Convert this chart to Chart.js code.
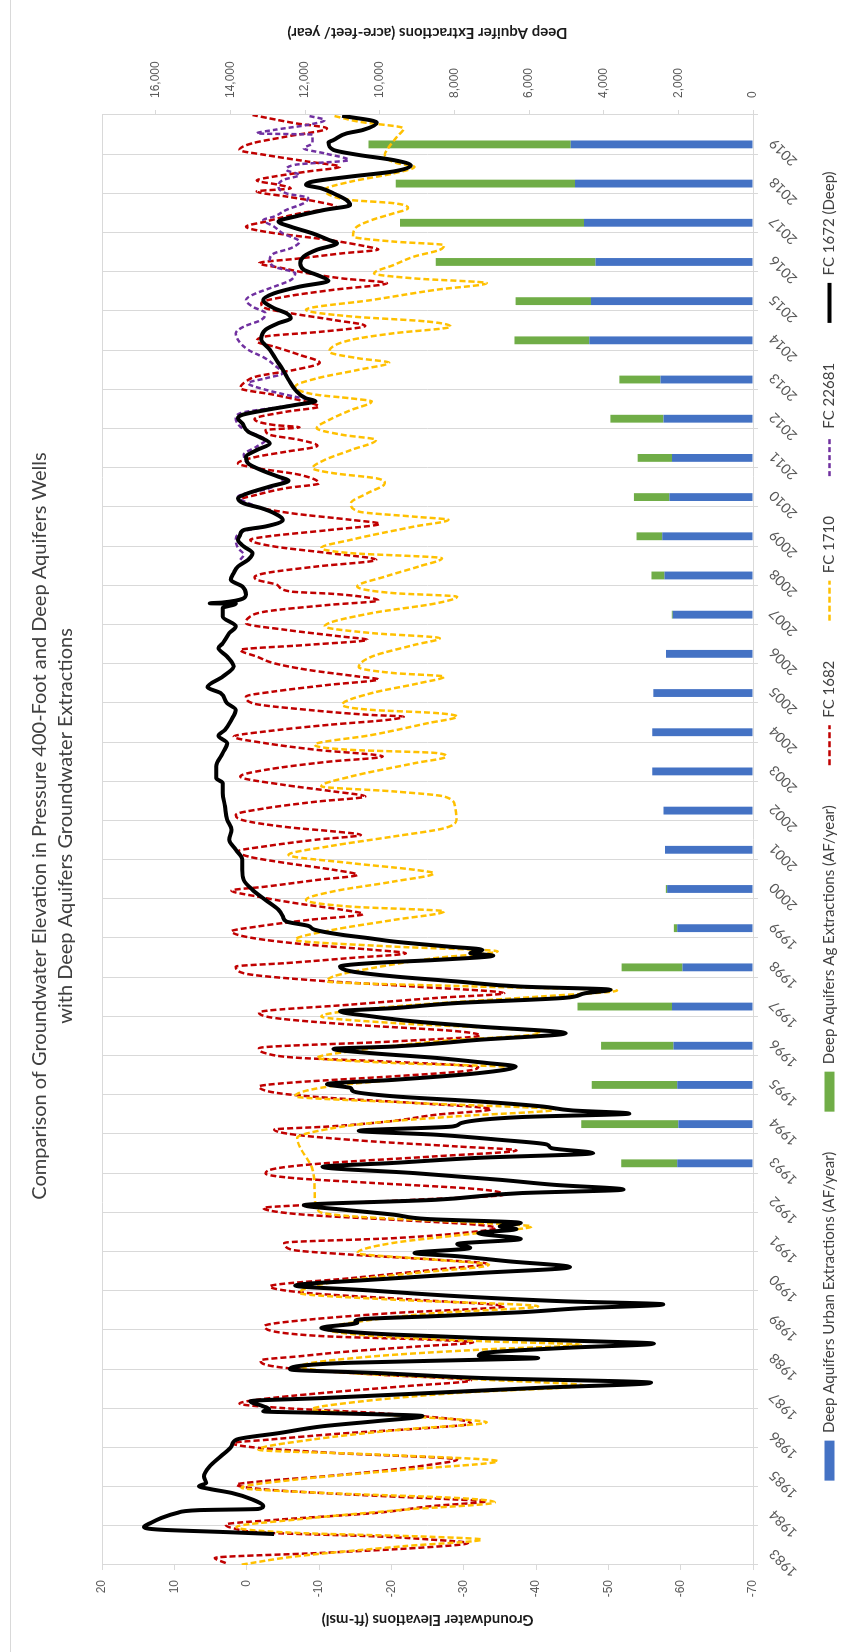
<!DOCTYPE html>
<html>
<head>
<meta charset="utf-8">
<title>Groundwater Elevation and Deep Aquifer Extractions</title>
<script src="https://cdn.jsdelivr.net/npm/chart.js@4.4.1/dist/chart.umd.min.js"></script>
<style>
  html, body { margin: 0; padding: 0; background: #ffffff; width: 847px; height: 1652px; overflow: hidden; }
  /* the chart is laid out landscape and turned a quarter turn counter-clockwise */
  #wrap { position: absolute; left: 0; top: 0; width: 1652px; height: 847px;
          transform-origin: 0 0; transform: translate(0, 1652px) rotate(-90deg); }
  canvas { display: block; }
</style>
</head>
<body>
<div id="wrap"><canvas id="chart" width="1652" height="847"></canvas></div>
<script>
// ---- categories -------------------------------------------------------
const years = ['1983','1984','1985','1986','1987','1988','1989','1990','1991','1992',
  '1993','1994','1995','1996','1997','1998','1999','2000','2001','2002','2003','2004',
  '2005','2006','2007','2008','2009','2010','2011','2012','2013','2014','2015','2016',
  '2017','2018','2019'];

// ---- deep aquifer extractions (acre-feet / year) ------------------------
const urbanAF = [null,null,null,null,null,null,null,null,null,null,
  2030,2000,2030,2130,2170,1890,2030,2300,2360,2400,2700,2700,
  2670,2330,2150,2370,2430,2240,2170,2400,2480,4390,4340,4220,
  4530,4770,4880];
const agAF = [null,null,null,null,null,null,null,null,null,null,
  1500,2600,2290,1940,2530,1630,90,35,0,0,0,0,
  0,0,25,350,690,950,920,1420,1100,2000,2020,4280,
  4930,4800,5420];

// ---- well hydrographs: [decimal year, elevation ft-msl] -----------------
const fc1682 = [[1983.05,2.9],[1983.18,4.4],[1983.31,-10.5],[1983.44,-23.9],[1983.56,-30.6],[1983.65,-25.4],[1983.73,-17.9],[1983.82,-3.1],[1983.95,2.1],[1984.03,2.9],[1984.16,-4.6],[1984.33,-17.9],[1984.50,-25.4],[1984.63,-33.2],[1984.67,-29.1],[1984.80,-14.2],[1984.92,-3.1],[1985.05,1.4],[1985.14,-2.3],[1985.26,-10.5],[1985.39,-17.9],[1985.56,-25.4],[1985.69,-29.1],[1985.86,-12.0],[1985.99,-1.6],[1986.11,2.0],[1986.20,-3.1],[1986.37,-14.2],[1986.50,-25.4],[1986.61,-31.0],[1986.71,-29.1],[1986.88,-17.9],[1987.01,-4.6],[1987.12,1.0],[1987.22,-1.6],[1987.39,-10.5],[1987.56,-21.7],[1987.71,-31.0],[1987.86,-17.9],[1987.99,-7.5],[1988.09,-3.1],[1988.22,-1.9],[1988.33,-7.5],[1988.45,-14.2],[1988.58,-23.9],[1988.68,-31.3],[1988.75,-25.4],[1988.84,-10.5],[1989.10,-2.5],[1989.26,-8.5],[1989.43,-20.3],[1989.60,-35.6],[1989.77,-23.2],[1989.94,-8.5],[1990.11,-3.2],[1990.32,-14.4],[1990.54,-26.2],[1990.69,-33.2],[1990.79,-26.2],[1990.92,-14.4],[1991.05,-6.1],[1991.22,-5.2],[1991.34,-20.3],[1991.47,-29.7],[1991.60,-34.4],[1991.68,-32.0],[1991.81,-20.3],[1991.94,-7.9],[1992.11,-2.3],[1992.19,-8.5],[1992.32,-23.2],[1992.45,-35.6],[1992.59,-32.0],[1992.75,-17.3],[1992.87,-6.7],[1992.99,-2.6],[1993.13,-4.4],[1993.26,-11.4],[1993.43,-26.2],[1993.58,-37.3],[1993.68,-29.1],[1993.81,-17.3],[1993.98,-6.7],[1994.11,-3.8],[1994.19,-11.4],[1994.32,-19.7],[1994.49,-26.2],[1994.63,-33.8],[1994.79,-23.2],[1994.92,-11.4],[1995.04,-4.4],[1995.21,-1.7],[1995.30,-5.5],[1995.47,-20.3],[1995.60,-30.0],[1995.70,-32.0],[1995.85,-19.0],[1995.94,-7.3],[1996.06,-2.6],[1996.19,-1.7],[1996.36,-20.3],[1996.51,-32.3],[1996.62,-29.1],[1996.79,-14.4],[1996.96,-3.8],[1997.10,-1.7],[1997.30,-14.4],[1997.47,-26.2],[1997.59,-35.6],[1997.76,-23.2],[1997.93,-8.5],[1998.10,0.4],[1998.27,1.5],[1998.36,-5.5],[1998.49,-14.4],[1998.61,-22.0],[1998.70,-17.3],[1998.83,-8.5],[1999.00,-0.8],[1999.17,2.1],[1999.29,-1.4],[1999.46,-8.5],[1999.61,-16.1],[1999.72,-13.2],[1999.89,-6.7],[2000.06,-1.4],[2000.21,2.1],[2000.31,-2.6],[2000.48,-9.7],[2000.61,-15.3],[2000.74,-12.0],[2000.91,-5.5],[2001.08,-0.2],[2001.21,1.2],[2001.34,-2.6],[2001.51,-9.7],[2001.63,-15.8],[2001.72,-12.0],[2001.82,-6.0],[2002.02,0.8],[2002.14,1.5],[2002.31,-2.6],[2002.48,-9.7],[2002.61,-16.4],[2002.74,-12.0],[2002.91,-5.0],[2003.12,0.9],[2003.29,-2.6],[2003.50,-11.4],[2003.63,-18.8],[2003.80,-9.7],[2003.97,-2.6],[2004.14,1.8],[2004.27,-2.6],[2004.44,-11.4],[2004.57,-19.7],[2004.65,-21.7],[2004.69,-17.3],[2004.82,-8.5],[2004.99,-0.8],[2005.16,0.1],[2005.29,-3.8],[2005.46,-11.4],[2005.60,-18.2],[2005.67,-15.5],[2005.84,-8.5],[2006.01,-3.8],[2006.18,-1.4],[2006.35,0.9],[2006.48,-8.5],[2006.61,-16.7],[2006.69,-13.2],[2006.86,-5.5],[2007.03,0.1],[2007.16,-0.2],[2007.33,-2.6],[2007.50,-11.4],[2007.61,-18.2],[2007.67,-17.3],[2007.78,-12.0],[2007.84,-6.1],[2008.01,-4.2],[2008.14,-1.4],[2008.21,-1.1],[2008.31,-2.6],[2008.48,-9.7],[2008.65,-17.9],[2008.82,-11.4],[2008.99,-3.8],[2009.16,-0.5],[2009.24,-2.6],[2009.41,-11.4],[2009.57,-18.4],[2009.67,-14.4],[2009.84,-6.1],[2010.05,-0.2],[2010.18,0.9],[2010.31,-1.4],[2010.48,-5.5],[2010.60,-10.0],[2010.82,-7.3],[2010.99,-1.4],[2011.11,1.2],[2011.28,-1.4],[2011.41,-5.5],[2011.56,-9.8],[2011.71,-7.3],[2011.84,-3.2],[2011.96,-2.6],[2012.03,-7.3],[2012.09,-3.8],[2012.24,-1.1],[2012.43,-5.5],[2012.56,-10.0],[2012.64,-9.1],[2012.86,-3.8],[2013.03,0.9],[2013.20,0.1],[2013.33,-1.4],[2013.50,-6.7],[2013.68,-10.1],[2013.88,-7.3],[2014.09,-3.8],[2014.22,-1.4],[2014.35,-2.6],[2014.47,-10.3],[2014.62,-16.4],[2014.77,-12.0],[2014.94,-6.1],[2015.07,-2.6],[2015.20,-2.0],[2015.37,-5.5],[2015.54,-12.0],[2015.71,-19.4],[2015.83,-13.2],[2015.96,-8.5],[2016.09,-5.0],[2016.22,-1.7],[2016.34,-7.3],[2016.47,-13.2],[2016.57,-18.2],[2016.64,-16.7],[2016.81,-11.4],[2017.02,-2.6],[2017.15,0.1],[2017.28,-2.6],[2017.49,-7.3],[2017.66,-12.3],[2017.79,-9.7],[2017.92,-5.5],[2018.05,-1.4],[2018.13,-6.1],[2018.22,-4.4],[2018.33,-1.4],[2018.43,-3.8],[2018.56,-8.5],[2018.68,-12.9],[2018.81,-8.5],[2018.98,-2.6],[2019.11,1.0],[2019.28,-0.8],[2019.45,-5.5],[2019.66,-11.1],[2019.79,-6.7],[2020.00,-0.8]];

const fc1710 = [[1983.01,0.7],[1983.22,-6.8],[1983.48,-21.7],[1983.65,-32.5],[1983.72,-25.4],[1983.82,-6.8],[1983.97,1.4],[1984.16,-6.8],[1984.41,-21.7],[1984.60,-34.3],[1984.71,-29.1],[1984.84,-10.5],[1984.97,0.7],[1985.18,-6.8],[1985.43,-21.7],[1985.65,-34.7],[1985.82,-17.9],[1985.94,-1.6],[1986.20,-9.0],[1986.46,-21.7],[1986.64,-33.2],[1986.80,-21.7],[1986.97,-9.0],[1987.14,-14.2],[1987.39,-29.1],[1987.58,-46.6],[1987.73,-32.8],[1987.90,-14.2],[1988.07,-7.5],[1988.33,-17.9],[1988.50,-32.8],[1988.62,-46.2],[1988.71,-32.8],[1988.84,-17.9],[1989.03,-11.0],[1989.18,-14.4],[1989.43,-26.2],[1989.60,-40.3],[1989.77,-20.3],[1989.94,-7.3],[1990.20,-11.4],[1990.45,-23.2],[1990.66,-33.5],[1990.79,-26.2],[1990.96,-15.3],[1991.22,-20.3],[1991.47,-32.0],[1991.64,-39.4],[1991.73,-32.0],[1991.90,-14.4],[1992.02,-10.0],[1992.49,-9.4],[1993.09,-9.1],[1993.90,-7.0],[1994.07,-9.7],[1994.28,-17.3],[1994.45,-29.1],[1994.62,-42.6],[1994.79,-23.2],[1994.96,-6.7],[1995.21,-11.4],[1995.47,-26.2],[1995.60,-34.0],[1995.70,-36.5],[1995.81,-20.3],[1995.94,-9.7],[1996.11,-14.4],[1996.36,-26.2],[1996.57,-40.6],[1996.66,-37.9],[1996.83,-20.3],[1997.00,-10.3],[1997.25,-20.3],[1997.51,-40.9],[1997.66,-51.2],[1997.76,-32.0],[1997.89,-11.1],[1998.02,-12.0],[1998.23,-17.3],[1998.49,-26.2],[1998.66,-34.7],[1998.78,-20.3],[1998.95,-6.7],[1999.21,-12.0],[1999.46,-20.3],[1999.68,-27.3],[1999.80,-14.4],[1999.97,-8.2],[2000.19,-12.0],[2000.44,-20.3],[2000.65,-25.9],[2000.74,-23.2],[2000.91,-14.4],[2001.12,-5.8],[2001.34,-11.4],[2001.59,-20.3],[2001.80,-27.3],[2002.02,-29.0],[2002.36,-28.8],[2002.61,-27.3],[2002.74,-20.3],[2002.87,-10.3],[2003.12,-14.4],[2003.46,-23.2],[2003.63,-27.6],[2003.72,-26.2],[2003.80,-14.4],[2003.93,-9.4],[2004.18,-17.3],[2004.48,-25.0],[2004.65,-29.1],[2004.74,-26.2],[2004.82,-17.3],[2004.95,-13.2],[2005.25,-17.3],[2005.50,-23.8],[2005.67,-27.3],[2005.76,-20.3],[2005.91,-15.5],[2006.18,-17.3],[2006.48,-23.2],[2006.65,-26.7],[2006.78,-17.3],[2006.95,-10.8],[2007.29,-17.3],[2007.54,-26.2],[2007.71,-29.1],[2007.80,-20.3],[2007.97,-15.3],[2008.22,-19.1],[2008.48,-23.8],[2008.69,-27.0],[2008.82,-14.4],[2008.95,-10.3],[2009.16,-14.4],[2009.50,-23.2],[2009.67,-27.9],[2009.75,-23.2],[2009.88,-15.5],[2010.09,-14.4],[2010.35,-16.7],[2010.60,-19.1],[2010.73,-17.9],[2010.86,-12.0],[2010.99,-9.1],[2011.20,-10.8],[2011.45,-14.4],[2011.71,-17.9],[2011.84,-13.2],[2012.01,-9.7],[2012.22,-11.4],[2012.47,-14.4],[2012.69,-17.3],[2012.77,-14.4],[2012.86,-9.7],[2013.07,-6.7],[2013.28,-9.7],[2013.50,-15.5],[2013.68,-19.7],[2013.79,-15.5],[2013.96,-11.4],[2014.26,-14.4],[2014.43,-20.3],[2014.60,-28.2],[2014.73,-25.0],[2014.86,-14.4],[2015.03,-8.2],[2015.28,-17.3],[2015.54,-26.2],[2015.71,-33.2],[2015.83,-23.2],[2015.96,-17.6],[2016.17,-20.3],[2016.39,-23.2],[2016.56,-26.7],[2016.68,-27.3],[2016.77,-20.3],[2016.90,-14.7],[2017.11,-15.0],[2017.32,-17.3],[2017.49,-20.3],[2017.62,-22.3],[2017.75,-20.3],[2017.83,-14.4],[2017.92,-12.0],[2018.09,-10.8],[2018.30,-14.4],[2018.51,-20.3],[2018.68,-23.2],[2018.77,-20.8],[2018.98,-19.1],[2019.19,-19.7],[2019.45,-20.8],[2019.66,-21.7],[2019.83,-15.5],[2019.98,-12.0]];

const fc22681 = [[2008.65,0.9],[2008.78,0.4],[2008.95,1.2],[2009.16,1.5],[2009.37,0.6],[2009.50,-2.6],[2009.67,-5.0],[2009.84,-3.8],[2010.05,-0.8],[2010.26,1.2],[2010.48,-3.2],[2010.69,-5.0],[2010.90,-2.6],[2011.11,-0.2],[2011.33,0.4],[2011.54,-1.4],[2011.71,-2.6],[2011.88,-0.8],[2012.05,0.9],[2012.26,1.5],[2012.39,0.9],[2012.56,-5.0],[2012.70,-9.5],[2012.81,-6.7],[2012.99,-2.6],[2013.16,-0.2],[2013.28,-2.6],[2013.41,-5.0],[2013.62,-3.8],[2013.79,-2.6],[2014.01,-0.2],[2014.26,1.2],[2014.43,1.5],[2014.60,0.4],[2014.77,-2.0],[2014.94,-2.6],[2015.11,-0.8],[2015.28,0.1],[2015.41,-0.8],[2015.62,-3.8],[2015.79,-6.1],[2015.96,-6.7],[2016.13,-3.8],[2016.30,-3.2],[2016.47,-3.8],[2016.60,-6.1],[2016.77,-7.3],[2016.98,-5.0],[2017.15,-3.8],[2017.32,-2.3],[2017.41,-3.8],[2017.58,-5.5],[2017.75,-7.9],[2017.88,-8.5],[2018.00,-5.5],[2018.17,-4.4],[2018.34,-5.0],[2018.47,-7.3],[2018.60,-5.5],[2018.73,-6.7],[2018.85,-14.1],[2019.02,-10.8],[2019.15,-7.9],[2019.28,-9.1],[2019.50,-9.1],[2019.53,-1.4],[2019.62,-3.8],[2019.75,-8.5],[2019.87,-10.8],[2019.98,-8.5]];

const fc1672 = [[1983.79,-3.8],[1983.84,2.9],[1983.90,11.8],[1983.97,14.2],[1984.07,13.3],[1984.20,11.8],[1984.33,9.6],[1984.40,6.6],[1984.43,-1.6],[1984.50,-2.3],[1984.67,-0.8],[1984.84,2.1],[1984.94,5.1],[1985.01,6.6],[1985.09,5.6],[1985.26,5.9],[1985.52,5.1],[1985.77,3.6],[1986.03,2.1],[1986.20,1.4],[1986.37,-4.6],[1986.54,-10.5],[1986.67,-17.9],[1986.80,-24.3],[1986.88,-10.5],[1986.92,-2.3],[1986.98,-3.1],[1987.05,-2.3],[1987.18,-0.5],[1987.26,-10.5],[1987.39,-25.4],[1987.52,-40.3],[1987.65,-55.9],[1987.77,-32.8],[1987.90,-17.9],[1987.99,-6.0],[1988.05,-6.4],[1988.16,-14.2],[1988.24,-32.8],[1988.28,-40.3],[1988.34,-32.1],[1988.41,-32.8],[1988.54,-44.0],[1988.65,-56.3],[1988.71,-47.7],[1988.79,-32.8],[1988.88,-20.2],[1988.96,-13.5],[1989.05,-10.3],[1989.18,-15.3],[1989.22,-15.0],[1989.28,-16.5],[1989.35,-26.0],[1989.45,-38.0],[1989.55,-46.0],[1989.65,-57.6],[1989.73,-43.8],[1989.86,-29.1],[1990.01,-16.7],[1990.13,-6.7],[1990.28,-17.3],[1990.45,-32.0],[1990.60,-44.7],[1990.75,-36.2],[1990.88,-29.1],[1990.96,-23.2],[1991.09,-30.9],[1991.19,-29.1],[1991.32,-37.9],[1991.47,-32.0],[1991.57,-37.3],[1991.64,-35.0],[1991.73,-37.9],[1991.83,-24.9],[1991.94,-20.3],[1992.07,-13.2],[1992.18,-7.9],[1992.32,-26.2],[1992.49,-37.9],[1992.58,-52.1],[1992.70,-42.6],[1992.83,-35.0],[1993.00,-23.2],[1993.16,-10.5],[1993.26,-20.3],[1993.39,-32.0],[1993.51,-47.9],[1993.64,-42.1],[1993.73,-41.5],[1993.85,-35.0],[1993.98,-26.2],[1994.08,-15.5],[1994.19,-28.5],[1994.28,-29.7],[1994.43,-37.9],[1994.52,-52.9],[1994.60,-45.0],[1994.70,-40.9],[1994.83,-32.0],[1994.96,-20.3],[1995.09,-14.7],[1995.17,-14.4],[1995.27,-11.1],[1995.38,-20.3],[1995.55,-32.0],[1995.72,-37.2],[1995.81,-33.2],[1995.94,-26.2],[1996.06,-17.3],[1996.17,-12.0],[1996.23,-20.3],[1996.40,-32.0],[1996.57,-44.1],[1996.74,-32.0],[1996.87,-23.2],[1997.00,-17.3],[1997.13,-12.9],[1997.21,-20.3],[1997.34,-29.1],[1997.47,-43.8],[1997.59,-46.8],[1997.68,-50.3],[1997.76,-37.9],[1997.89,-29.1],[1998.02,-20.3],[1998.15,-14.4],[1998.27,-12.9],[1998.36,-17.3],[1998.44,-26.2],[1998.55,-34.1],[1998.61,-30.9],[1998.70,-32.6],[1998.78,-27.9],[1998.91,-20.3],[1999.00,-16.7],[1999.08,-13.2],[1999.21,-9.4],[1999.31,-8.5],[1999.42,-5.5],[1999.55,-5.0],[1999.72,-4.4],[1999.97,-2.6],[2000.23,-0.8],[2000.48,0.4],[2000.74,0.6],[2001.00,0.6],[2001.25,1.5],[2001.51,2.4],[2001.76,2.1],[2002.02,2.7],[2002.36,3.0],[2002.70,3.3],[2002.95,3.3],[2003.08,4.2],[2003.38,4.2],[2003.72,3.3],[2003.97,2.7],[2004.16,3.9],[2004.31,3.0],[2004.57,2.1],[2004.82,1.5],[2004.99,2.7],[2005.25,3.6],[2005.40,5.4],[2005.67,3.3],[2005.93,1.8],[2006.18,2.7],[2006.40,3.9],[2006.52,3.3],[2006.78,2.4],[2006.95,1.5],[2007.20,3.3],[2007.42,3.3],[2007.53,1.5],[2007.54,5.1],[2007.56,3.3],[2007.76,0.1],[2007.97,0.6],[2008.14,2.2],[2008.31,1.8],[2008.48,1.2],[2008.65,-0.2],[2008.82,-0.8],[2008.99,0.4],[2009.16,1.2],[2009.29,0.9],[2009.41,0.4],[2009.50,-2.6],[2009.67,-5.0],[2009.84,-3.8],[2009.97,-2.0],[2010.09,0.4],[2010.22,1.2],[2010.35,-0.2],[2010.52,-3.2],[2010.67,-5.8],[2010.77,-4.4],[2010.94,-2.0],[2011.11,-0.2],[2011.28,0.1],[2011.45,-1.4],[2011.62,-3.2],[2011.79,-1.7],[2011.92,-0.2],[2012.13,0.6],[2012.26,1.2],[2012.35,0.6],[2012.47,-2.6],[2012.60,-6.7],[2012.70,-9.5],[2012.77,-8.2],[2012.99,-6.7],[2013.24,-5.8],[2013.50,-5.0],[2013.75,-4.1],[2014.01,-3.2],[2014.28,-2.0],[2014.52,-2.6],[2014.69,-4.4],[2014.81,-6.1],[2014.94,-5.5],[2015.07,-3.8],[2015.28,-2.3],[2015.45,-3.8],[2015.62,-7.3],[2015.77,-11.3],[2015.92,-9.7],[2016.05,-7.9],[2016.22,-7.4],[2016.39,-7.9],[2016.56,-9.7],[2016.73,-12.5],[2016.81,-11.4],[2016.98,-9.1],[2017.15,-6.1],[2017.28,-4.4],[2017.41,-6.7],[2017.58,-10.8],[2017.70,-14.3],[2017.83,-13.8],[2018.00,-12.0],[2018.13,-10.3],[2018.22,-8.2],[2018.30,-9.1],[2018.43,-14.4],[2018.56,-20.3],[2018.71,-22.7],[2018.85,-20.3],[2018.98,-15.5],[2019.11,-12.0],[2019.30,-11.3],[2019.36,-12.0],[2019.53,-13.8],[2019.62,-16.1],[2019.81,-18.0],[2019.98,-13.2]];

// ---- axis ticks and texts ----------------------------------------------
const elevRange = { min: -70, max: 20, step: 10 };
const extractionRange = { min: 0, max: 17440 };
const extractionTickValues = [0, 2000, 4000, 6000, 8000, 10000, 12000, 14000, 16000];
const chartTitle = ['Comparison of Groundwater Elevation in Pressure 400-Foot and Deep Aquifers Wells',
                    'with Deep Aquifers Groundwater Extractions'];
const elevTitle = 'Groundwater Elevations (ft-msl)';
const extractionTitle = 'Deep Aquifer Extractions (acre-feet/ year)';

const toXY = pts => pts.map(p => ({ x: p[0], y: p[1] }));
const GRID = '#d9d9d9';
const TICK = '#595959';

// thin frame lines: plot-area edge opposite the category axis and the outer chart edge
const framePlugin = {
  id: 'frame',
  beforeDatasetsDraw(chart) {
    const { ctx, chartArea: a } = chart;
    ctx.save();
    ctx.strokeStyle = GRID;
    ctx.lineWidth = 1;
    ctx.beginPath();
    ctx.moveTo(a.left, Math.round(a.top) + 0.5);
    ctx.lineTo(a.right, Math.round(a.top) + 0.5);
    ctx.moveTo(0, 10.5);
    ctx.lineTo(chart.width, 10.5);
    ctx.stroke();
    ctx.restore();
  }
};

// secondary-axis title, set in the same reading direction as the primary one
const extractionTitlePlugin = {
  id: 'extractionTitle',
  afterDraw(chart) {
    const s = chart.scales.y2;
    const ctx = chart.ctx;
    ctx.save();
    ctx.translate(s.right - 33, (s.top + s.bottom) / 2);
    ctx.rotate(-Math.PI / 2);
    ctx.font = 'bold 15px Lato';
    ctx.fillStyle = '#1a1a1a';
    ctx.textAlign = 'center';
    ctx.textBaseline = 'middle';
    ctx.fillText(extractionTitle, 0, 0);
    ctx.restore();
  }
};

const lineStyle = {
  type: 'line', xAxisID: 'xl', yAxisID: 'y', pointRadius: 0, pointHoverRadius: 0,
  fill: false, cubicInterpolationMode: 'monotone', spanGaps: true
};

new Chart(document.getElementById('chart'), {
  type: 'bar',
  data: {
    labels: years,
    datasets: [
      { type: 'bar', label: 'Deep Aquifers Urban Extractions (AF/year)', data: urbanAF,
        backgroundColor: '#4472C4', xAxisID: 'x', yAxisID: 'y2', stack: 'ext', order: 4,
        barPercentage: 0.4, categoryPercentage: 1.0 },
      { type: 'bar', label: 'Deep Aquifers Ag Extractions (AF/year)', data: agAF,
        backgroundColor: '#70AD47', xAxisID: 'x', yAxisID: 'y2', stack: 'ext', order: 5,
        barPercentage: 0.4, categoryPercentage: 1.0 },
      Object.assign({}, lineStyle, { label: 'FC 1682', data: toXY(fc1682),
        borderColor: '#C00000', backgroundColor: '#C00000', borderWidth: 2.5, borderDash: [6, 3], order: 3 }),
      Object.assign({}, lineStyle, { label: 'FC 1710', data: toXY(fc1710),
        borderColor: '#FFC000', backgroundColor: '#FFC000', borderWidth: 2.5, borderDash: [6, 3], order: 2 }),
      Object.assign({}, lineStyle, { label: 'FC 22681', data: toXY(fc22681),
        borderColor: '#7030A0', backgroundColor: '#7030A0', borderWidth: 2.5, borderDash: [5, 3], order: 1 }),
      Object.assign({}, lineStyle, { label: 'FC 1672 (Deep)', data: toXY(fc1672),
        borderColor: '#000000', backgroundColor: '#000000', borderWidth: 4, order: 0 })
    ]
  },
  options: {
    responsive: false,
    devicePixelRatio: 1,
    animation: false,
    events: [],
    locale: 'en-US',
    layout: { padding: 0 },
    plugins: {
      tooltip: { enabled: false },
      title: {
        display: true, text: chartTitle, color: '#404040',
        font: { family: 'Lato', size: 20, weight: 'normal', lineHeight: 1.3 },
        padding: { top: 27, bottom: 23 }
      },
      legend: {
        position: 'bottom',
        labels: {
          usePointStyle: true, pointStyleWidth: 40, boxHeight: 10, padding: 40,
          color: '#404040', font: { family: 'Lato', size: 15 },
          generateLabels(chart) {
            const items = Chart.defaults.plugins.legend.labels.generateLabels(chart);
            items.forEach(it => {
              const ds = chart.data.datasets[it.datasetIndex];
              if (ds.type === 'line') {
                it.pointStyle = 'line';
                it.lineWidth = ds.borderWidth;
                it.lineDash = ds.borderDash || [];
                it.strokeStyle = ds.borderColor;
              } else {
                it.pointStyle = 'rect';
                it.lineWidth = 0;
                it.fillStyle = ds.backgroundColor;
              }
            });
            return items.sort((a, b) => a.datasetIndex - b.datasetIndex);
          }
        }
      }
    },
    scales: {
      x: {
        type: 'category', position: 'bottom', offset: true, stacked: true,
        grid: { offset: true, color: GRID, tickLength: 5, drawTicks: true },
        border: { color: GRID },
        ticks: { autoSkip: false, minRotation: 45, maxRotation: 45, padding: 8, labelOffset: -6,
                 color: TICK, font: { family: 'Lato', size: 14 } },
        afterFit(s) {
          s.height = 29;
          // the slanted year labels run below this short band, so keep them unclipped
          s._computeLabelArea = () => undefined;
        }
      },
      xl: { type: 'linear', display: false, min: 1983, max: 2020, offset: false },
      y: {
        position: 'left', min: elevRange.min, max: elevRange.max,
        ticks: { stepSize: elevRange.step, autoSkip: false, padding: 10, color: TICK,
                 font: { family: 'Liberation Sans', size: 12 } },
        grid: { drawOnChartArea: false, drawTicks: true, tickLength: 5, color: GRID },
        border: { color: GRID },
        title: { display: true, text: elevTitle, color: '#1a1a1a',
                 font: { family: 'Lato', size: 15, weight: 'bold', lineHeight: 1.2 },
                 padding: { top: 23, bottom: 0 } },
        afterFit(s) { s.width = 87; }
      },
      y2: {
        position: 'right', min: extractionRange.min, max: extractionRange.max, stacked: true,
        ticks: { autoSkip: false, padding: 12, color: TICK,
                 font: { family: 'Liberation Sans', size: 12 },
                 callback: v => v.toLocaleString('en-US') },
        afterBuildTicks(s) { s.ticks = extractionTickValues.map(v => ({ value: v })); },
        grid: { drawOnChartArea: false, drawTicks: true, tickLength: 5, color: GRID },
        border: { color: GRID },
        afterFit(s) { s.width = 115; }
      }
    }
  },
  plugins: [framePlugin, extractionTitlePlugin]
});
</script>
</body>
</html>
